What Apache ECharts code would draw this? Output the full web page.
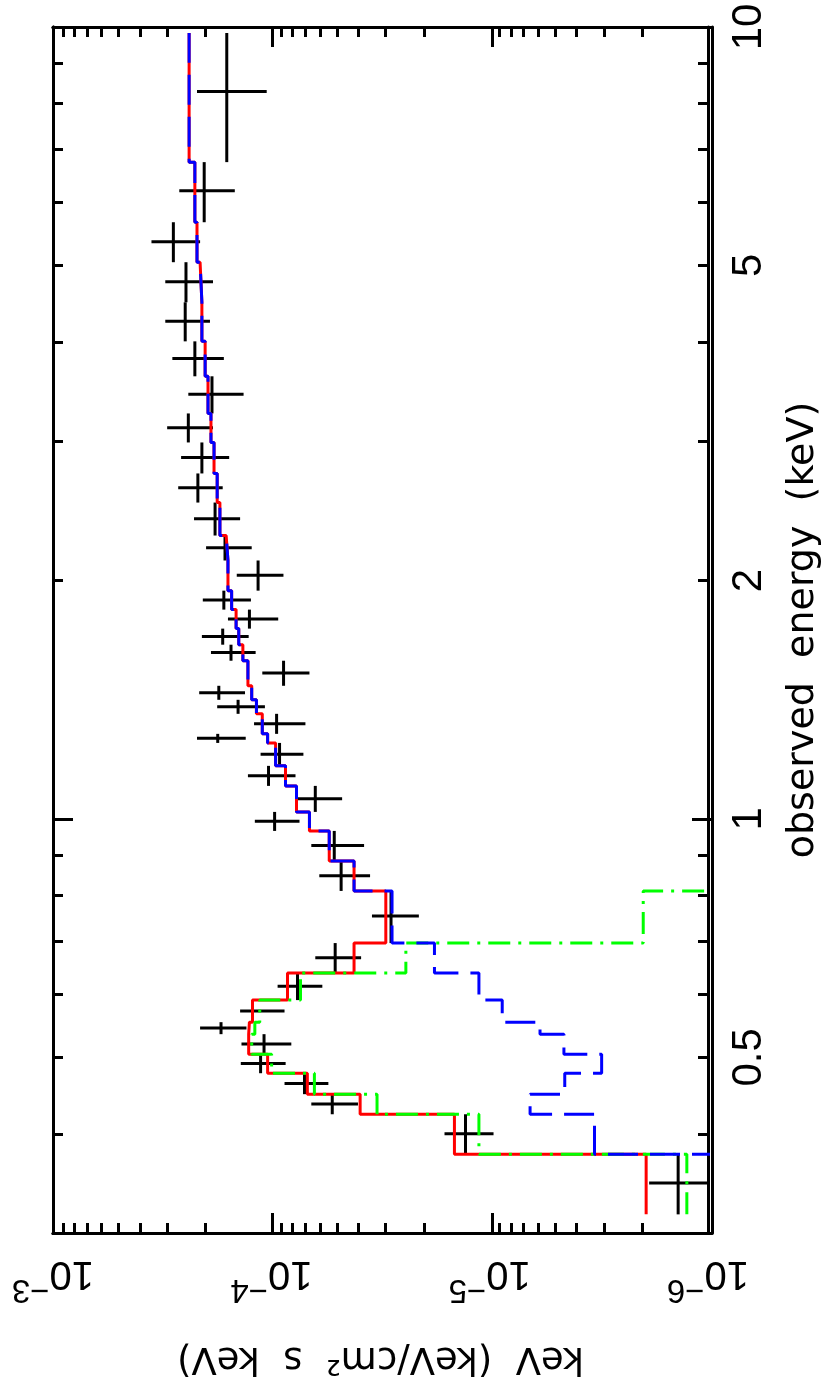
<!DOCTYPE html>
<html>
<head>
<meta charset="utf-8">
<title>spectrum</title>
<script src="https://cdn.jsdelivr.net/npm/echarts@6/dist/echarts.min.js"></script>
<style>
  html, body { margin: 0; padding: 0; background: #fff; }
  #main { width: 830px; height: 1392px; }
</style>
</head>
<body>
<div id="main"></div>
<script>
// energy bin edges (keV), low -> high
const binEdges = [0.3167, 0.3771, 0.4237, 0.4492, 0.4774, 0.5046, 0.5348, 0.5538, 0.5905, 0.6388,
  0.6970, 0.8111, 0.8849, 0.9657, 1.0206, 1.1008, 1.1668, 1.2473, 1.2806, 1.3574,
  1.4139, 1.4727, 1.5840, 1.6596, 1.7390, 1.8378, 1.9420, 2.1200, 2.2796, 2.5089,
  2.7305, 2.9880, 3.2510, 3.6218, 4.0091, 4.4911, 5.0466, 5.6686, 6.7510, 9.8268];

// data points, one per bin
const flux = [1.37e-6, 1.29e-5, 5.26e-5, 7.05e-5, 1.12e-4, 1.08e-4, 1.70e-4, 1.22e-4, 7.59e-5, 5.10e-5,
  2.83e-5, 4.79e-5, 5.15e-5, 9.66e-5, 6.29e-5, 1.03e-4, 9.17e-5, 1.76e-4, 9.46e-5, 1.42e-4,
  1.74e-4, 8.79e-5, 1.53e-4, 1.67e-4, 1.26e-4, 1.65e-4, 1.15e-4, 1.63e-4, 1.81e-4, 2.17e-4,
  2.08e-4, 2.40e-4, 1.87e-4, 2.24e-4, 2.48e-4, 2.46e-4, 2.81e-4, 2.03e-4, 1.60e-4];
const fluxLo = [0.88e-6, 0.96e-5, 4.01e-5, 5.48e-5, 0.86e-4, 0.81e-4, 1.30e-4, 0.87e-4, 5.84e-5, 3.88e-5,
  2.11e-5, 3.53e-5, 3.76e-5, 7.43e-5, 4.74e-5, 7.75e-5, 7.13e-5, 1.31e-4, 6.98e-5, 1.07e-4,
  1.32e-4, 6.69e-5, 1.18e-4, 1.27e-4, 0.93e-4, 1.24e-4, 0.88e-4, 1.23e-4, 1.39e-4, 1.67e-4,
  1.56e-4, 1.85e-4, 1.34e-4, 1.65e-4, 1.91e-4, 1.85e-4, 2.12e-4, 1.47e-4, 1.05e-4];
const fluxHi = [1.86e-6, 1.61e-5, 6.56e-5, 8.70e-5, 1.38e-4, 1.37e-4, 2.12e-4, 1.39e-4, 9.36e-5, 6.29e-5,
  3.46e-5, 6.03e-5, 6.56e-5, 1.19e-4, 7.75e-5, 1.28e-4, 1.12e-4, 2.19e-4, 1.20e-4, 1.77e-4,
  2.14e-4, 1.10e-4, 1.89e-4, 2.08e-4, 1.58e-4, 2.06e-4, 1.44e-4, 1.99e-4, 2.26e-4, 2.67e-4,
  2.59e-4, 3.00e-4, 2.40e-4, 2.84e-4, 3.06e-4, 3.06e-4, 3.54e-4, 2.64e-4, 2.19e-4];

// folded models, one value per bin
const modelTotal = [1.92e-6, 1.45e-5, 3.92e-5, 6.84e-5, 1.04e-4, 1.27e-4, 1.26e-4, 1.22e-4, 8.43e-5, 4.18e-5,
  2.99e-5, 4.18e-5, 5.43e-5, 6.69e-5, 7.67e-5, 8.61e-5, 9.56e-5, 1.04e-4, 1.10e-4, 1.17e-4,
  1.23e-4, 1.28e-4, 1.35e-4, 1.41e-4, 1.45e-4, 1.52e-4, 1.58e-4, 1.61e-4, 1.72e-4, 1.77e-4,
  1.83e-4, 1.89e-4, 1.95e-4, 2.01e-4, 2.08e-4, 2.12e-4, 2.19e-4, 2.24e-4, 2.38e-4];
const modelPow = [6.7e-7, 3.31e-6, 6.53e-6, 4.53e-6, 3.07e-6, 4.57e-6, 5.88e-6, 8.76e-6, 1.12e-5, 1.79e-5,
  2.80e-5, 4.18e-5, 5.43e-5, 6.69e-5, 7.67e-5, 8.61e-5, 9.56e-5, 1.04e-4, 1.10e-4, 1.17e-4,
  1.23e-4, 1.28e-4, 1.35e-4, 1.41e-4, 1.45e-4, 1.52e-4, 1.58e-4, 1.61e-4, 1.72e-4, 1.77e-4,
  1.83e-4, 1.89e-4, 1.95e-4, 2.01e-4, 2.08e-4, 2.12e-4, 2.19e-4, 2.24e-4, 2.38e-4];
const modelTherm = [1.25e-6, 1.12e-5, 3.28e-5, 6.35e-5, 9.97e-5, 1.23e-4, 1.19e-4, 1.13e-4, 7.35e-5, 2.42e-5,
  1.98e-6, 3e-7];

// tick values
const fluxLabels = [1e-3, 1e-4, 1e-5, 1e-6];
const energyLabels = [0.5, 1, 2, 5, 10];
const fluxMajor = [1e-5, 1e-4];
const energyMajor = [1];
let fluxMinor = [];
[1e-6, 1e-5, 1e-4].forEach(d => { for (let k = 2; k <= 9; k++) fluxMinor.push(k * d); });
const energyMinor = [0.4, 0.5, 0.6, 0.7, 0.8, 0.9, 2, 3, 4, 5, 6, 7, 8, 9];

const font = 'Liberation Sans';
const titleFont = 'DejaVu Sans';
const black = { color: '#000', width: 3 };

function stepLine(values) {
  let pts = [];
  for (let i = 0; i < values.length; i++) {
    if (values[i] == null) continue;
    pts.push([values[i], binEdges[i]]);
    pts.push([values[i], binEdges[i + 1]]);
  }
  return pts;
}

let crosses = [];
for (let i = 0; i < flux.length; i++) {
  crosses.push([binEdges[i], binEdges[i + 1], flux[i], fluxLo[i], fluxHi[i]]);
}

function fluxAxis(grid, pos, ticks, len) {
  return {
    type: 'log', logBase: 10, gridIndex: grid, position: pos,
    min: 1e-6, max: 1e-3, inverse: true,
    axisLine: { show: true, lineStyle: black },
    axisTick: { show: true, inside: true, length: len, lineStyle: black, customValues: ticks },
    axisLabel: { show: false },
    splitLine: { show: false }
  };
}
function energyAxis(grid, pos, ticks, len) {
  return {
    type: 'log', logBase: 10, gridIndex: grid, position: pos,
    min: 0.3, max: 10,
    axisLine: { show: true, lineStyle: black },
    axisTick: { show: true, inside: true, length: len, lineStyle: black, customValues: ticks },
    axisLabel: { show: false },
    splitLine: { show: false }
  };
}

let xMain = fluxAxis(0, 'bottom', fluxMinor, 10);
xMain.axisLabel = {
  show: true, rotate: 180, margin: 20, customValues: fluxLabels,
  formatter: function (v) { return '{b|10}{s|\u2212' + Math.round(-Math.log10(v)) + '}'; },
  rich: {
    b: { fontSize: 40, fontFamily: font, color: '#000', padding: [13, 0, 0, 0], verticalAlign: 'top' },
    s: { fontSize: 33, fontFamily: font, color: '#000', verticalAlign: 'top' }
  }
};
xMain.name = 'keV  (keV/cm\u00b2  s  keV)';
xMain.nameLocation = 'middle';
xMain.nameRotate = 180;
xMain.nameGap = 125;
xMain.nameTextStyle = { fontSize: 37, fontFamily: titleFont, color: '#000', align: 'center', verticalAlign: 'middle' };

let yMain = energyAxis(0, 'right', energyMinor, 10);
yMain.axisLabel = {
  show: true, rotate: 90, margin: 20, customValues: energyLabels,
  fontSize: 42, fontFamily: font, color: '#000',
  formatter: function (v) { return String(v); }
};
yMain.name = 'observed  energy  (keV)';
yMain.nameLocation = 'middle';
yMain.nameGap = 95;
yMain.nameTextStyle = { fontSize: 38, fontFamily: titleFont, color: '#000', align: 'center', verticalAlign: 'middle' };

let myChart = echarts.init(document.getElementById('main'));
myChart.setOption({
  animation: false,
  backgroundColor: '#fff',
  grid: [
    { left: 53, right: 118, top: 27, bottom: 159 },
    { left: 53, right: 118, top: 27, bottom: 159 }
  ],
  xAxis: [
    xMain,
    fluxAxis(0, 'top', fluxMinor, 10),
    fluxAxis(1, 'bottom', fluxMajor, 20),
    fluxAxis(1, 'top', fluxMajor, 20)
  ],
  yAxis: [
    yMain,
    energyAxis(0, 'left', energyMinor, 10),
    energyAxis(1, 'right', energyMajor, 20),
    energyAxis(1, 'left', energyMajor, 20)
  ],
  series: [
    {
      type: 'custom',
      xAxisIndex: 0, yAxisIndex: 0,
      clip: true,
      z: 2,
      encode: { x: [2, 3, 4], y: [0, 1] },
      data: crosses,
      renderItem: function (params, api) {
        let e0 = api.value(0), e1 = api.value(1);
        let em = (e0 + e1) / 2;
        let a = api.coord([api.value(2), e0]);
        let b = api.coord([api.value(2), e1]);
        let c = api.coord([api.value(3), em]);
        let d = api.coord([api.value(4), em]);
        return {
          type: 'group',
          children: [
            { type: 'line', shape: { x1: a[0], y1: a[1], x2: b[0], y2: b[1] }, style: { stroke: '#000', lineWidth: 3 } },
            { type: 'line', shape: { x1: c[0], y1: c[1], x2: d[0], y2: d[1] }, style: { stroke: '#000', lineWidth: 3 } }
          ]
        };
      }
    },
    {
      name: 'total', type: 'line', xAxisIndex: 0, yAxisIndex: 0, z: 3,
      showSymbol: false, clip: true,
      data: stepLine(modelTotal),
      lineStyle: { color: '#ff0000', width: 3 }
    },
    {
      name: 'thermal', type: 'line', xAxisIndex: 0, yAxisIndex: 0, z: 4,
      showSymbol: false, clip: true,
      data: stepLine(modelTherm),
      lineStyle: { color: '#00ff00', width: 3, type: [22, 8, 3, 8] }
    },
    {
      name: 'power law', type: 'line', xAxisIndex: 0, yAxisIndex: 0, z: 5,
      showSymbol: false, clip: true,
      data: stepLine(modelPow),
      lineStyle: { color: '#0000ff', width: 3, type: [30, 12] }
    }
  ]
});
</script>
</body>
</html>
